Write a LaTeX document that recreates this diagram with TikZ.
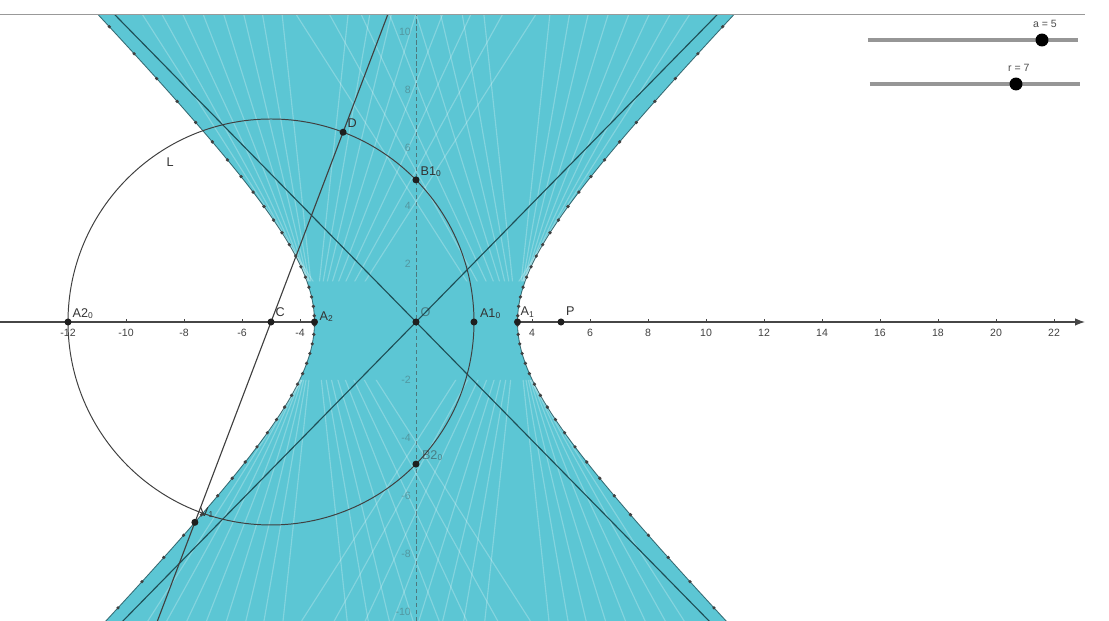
\documentclass[tikz,border=0pt]{standalone}
\usepackage{fontspec}
\setmainfont{Liberation Sans}
\usetikzlibrary{
    arrows.meta, % For the axis tip
    calc         % For points on the circle and on line CD
}
\definecolor{envcyan}{RGB}{92,198,212}
\definecolor{darkteal}{RGB}{30,78,86}
\definecolor{axisgray}{RGB}{70,70,70}
\definecolor{slidergray}{RGB}{150,150,150}

\begin{document}
\begin{tikzpicture}[
    x=0.725cm, y=0.725cm,
    >=Latex, % Default arrow tip
    axis/.style={line width=0.9pt, axisgray},
    yaxis/.style={line width=0.7pt, axisgray, dash pattern=on 3pt off 2pt, opacity=0.6},
    streak/.style={white, line width=0.8pt, opacity=0.25},
    hypedge/.style={darkteal, line width=0.6pt, opacity=0.8},
    tracedot/.style={fill=black!75},
    asym/.style={darkteal, line width=0.8pt},
    circL/.style={black!75, line width=0.7pt},
    lineCD/.style={black!75, line width=0.8pt},
    dotpt/.style={fill=black!88},
    lbl/.style={font=\fontsize{9}{10}\selectfont, text=black!80, inner sep=1pt},
    ticklbl/.style={font=\fontsize{7.5}{8}\selectfont, text=black!75, inner sep=1pt},
    slider/.style={slidergray, line width=2.8pt},
    sliderlbl/.style={font=\fontsize{7.5}{8}\selectfont, text=black!70}
]

    % Hyperbola half axes and limits of the view
    \def\ha{3.5}
    \def\hb{3.5707}
    \def\ytop{10.62}
    \def\ybot{-10.31}
    \def\xleft{-14.345}
    \def\xright{23.897}

    \useasboundingbox (\xleft,\ybot) rectangle (\xright,11.103);

    % Points of the construction
    \coordinate (O)   at (0,0);
    \coordinate (C)   at (-5,0);
    \coordinate (P)   at (5,0);
    \coordinate (A1)  at (\ha,0);
    \coordinate (A2)  at (-\ha,0);
    \coordinate (A1o) at (2,0);
    \coordinate (A2o) at (-12,0);
    \coordinate (B1o) at (0,4.899);
    \coordinate (B2o) at (0,-4.899);
    \coordinate (D)   at ($(C)+(69.2:7)$);
    \coordinate (X)   at ($(C)+(69.2:-7.39)$);

    % x-axis (under the envelope)
    \draw[axis, ->] (\xleft,0) -- (23.07,0);
    \foreach \v in {-12,-10,-8,-6,-4,4,6,8,10,12,14,16,18,20,22}{
        \draw[axis, line width=0.5pt] (\v,0) -- (\v,0.1);
        \node[ticklbl, anchor=north] (tx\v) at (\v,-0.18) {\v};
    }

    \begin{scope}
    \clip (\xleft,\ybot) rectangle (\xright,\ytop);

    % Envelope of the tangent lines
    \fill[envcyan]
        plot[domain=-2.3:2.3, samples=90, variable=\u] ({-\ha*cosh(\u)},{\hb*sinh(\u)})
        -- plot[domain=2.3:-2.3, samples=90, variable=\u] ({\ha*cosh(\u)},{\hb*sinh(\u)})
        -- cycle;

    % Lighter gaps between single tangent lines (away from the x-axis)
    \begin{scope}
    \clip (\xleft,1.4) rectangle (\xright,\ytop)
          (\xleft,-2) rectangle (\xright,\ybot);
    \foreach \sg in {1,-1}
      \foreach \tp in {-0.78,-0.64,-0.52,-0.42,-0.33,-0.25,-0.18,-0.11,0.11,0.18,0.25,0.33,0.42,0.52,0.64,0.78}
        \draw[streak] ({\sg*\ha*(1+\ytop*sinh(\tp)/\hb)/cosh(\tp)},\ytop)
            -- ({\sg*\ha*(1+\ybot*sinh(\tp)/\hb)/cosh(\tp)},\ybot);
    \end{scope}

    % Edge of the envelope and traced points
    \draw[hypedge] plot[domain=-2.3:2.3, samples=90, variable=\u] ({-\ha*cosh(\u)},{\hb*sinh(\u)});
    \draw[hypedge] plot[domain=-2.3:2.3, samples=90, variable=\u] ({\ha*cosh(\u)},{\hb*sinh(\u)});
    \foreach \u in {-2.1,-2.01,...,2.12}{
        \fill[tracedot] ({\ha*cosh(\u)},{\hb*sinh(\u)}) circle[radius=1.3pt];
        \fill[tracedot] ({-\ha*cosh(\u)},{\hb*sinh(\u)}) circle[radius=1.3pt];
    }

    % y-axis, dashed
    \draw[yaxis] (0,\ybot) -- (0,\ytop);
    \foreach \v in {-10,-8,-6,-4,-2,2,4,6,8,10}
        \node[ticklbl, anchor=east, opacity=0.35] (ty\v) at (-0.12,\v) {\v};

    % Asymptotes
    \draw[asym] ($(O)!-1!(11,{11*\hb/\ha})$) -- (11,{11*\hb/\ha});
    \draw[asym] ($(O)!-1!(11,{-11*\hb/\ha})$) -- (11,{-11*\hb/\ha});

    % Circle L and line CD
    \draw[circL] (C) circle[radius=7];
    \draw[lineCD] ($(C)!-1.6!(D)$) -- ($(C)!1.65!(D)$);
    \end{scope}

    % Top edge of the view
    \draw[black!40, line width=0.6pt] (\xleft,\ytop) -- (23.07,\ytop);

    % Points
    \foreach \p in {O,C,P,A1,A2,A1o,A2o,B1o,B2o,D,X}
        \fill[dotpt] (\p) circle[radius=2.5pt];

    % Labels
    \node[lbl, anchor=south west] (lA2o) at ($(A2o)+(0.1,0.05)$) {A2\textsubscript{0}};
    \node[lbl, anchor=south west] (lC)   at ($(C)+(0.1,0.12)$)   {C};
    \node[lbl, anchor=south west] (lA2)  at ($(A2)+(0.12,-0.05)$) {A\textsubscript{2}};
    \node[lbl, anchor=south west, opacity=0.5] (lO) at ($(O)+(0.1,0.12)$) {O};
    \node[lbl, anchor=south west] (lA1o) at ($(A1o)+(0.15,0.05)$) {A1\textsubscript{0}};
    \node[lbl, anchor=south west] (lA1)  at ($(A1)+(0.05,0.1)$)  {A\textsubscript{1}};
    \node[lbl, anchor=south west] (lP)   at ($(P)+(0.12,0.15)$)  {P};
    \node[lbl, anchor=south west] (lB1o) at ($(B1o)+(0.1,0.05)$) {B1\textsubscript{0}};
    \node[lbl, anchor=south west, opacity=0.5] (lB2o) at ($(B2o)+(0.15,0.05)$) {B2\textsubscript{0}};
    \node[lbl, anchor=south west] (lD)   at ($(D)+(0.1,0.1)$)    {D};
    \node[lbl, anchor=south west] (lX)   at ($(X)+(0.12,0.1)$)   {V\textsubscript{1}};
    \node[lbl] (lL) at (-8.48,5.52) {L};

    % Sliders a and r
    \coordinate (sa0) at (15.586,9.724);
    \coordinate (sa1) at (22.828,9.724);
    \coordinate (sak) at (21.586,9.724);
    \coordinate (sr0) at (15.655,8.207);
    \coordinate (sr1) at (22.897,8.207);
    \coordinate (srk) at (20.690,8.207);
    \draw[slider] (sa0) -- (sa1);
    \draw[slider] (sr0) -- (sr1);
    \fill[black] (sak) circle[radius=4.6pt];
    \fill[black] (srk) circle[radius=4.6pt];
    \node[sliderlbl, anchor=south] (la) at ($(sak)+(0.1,0.25)$) {a = 5};
    \node[sliderlbl, anchor=south] (lr) at ($(srk)+(0.1,0.25)$) {r = 7};

\end{tikzpicture}
\end{document}
